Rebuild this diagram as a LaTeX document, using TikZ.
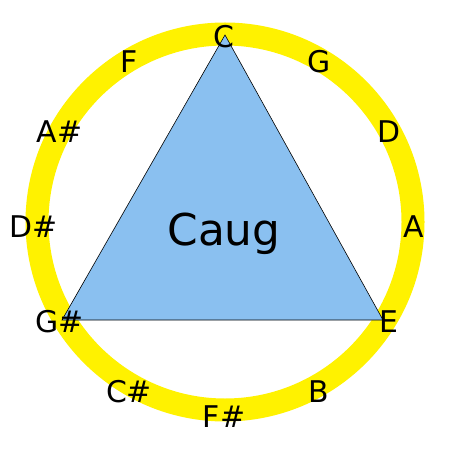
\documentclass[tikz,border=0pt]{standalone}
\usepackage{fontspec}
\setmainfont{DejaVu Sans}
\definecolor{triblue}{RGB}{138,192,240}
\begin{document}
\begin{tikzpicture}[x=1bp,y=-1bp]
\tikzset{
  ring/.style={draw=yellow,line width=23bp},
  tri/.style={fill=triblue,draw=black,line width=0.6bp,line join=miter},
  note/.style={font=\fontsize{30}{36}\selectfont,anchor=base,inner sep=0pt},
  title/.style={font=\fontsize{44}{52}\selectfont,anchor=base,inner sep=0pt}
}
\useasboundingbox (0,0) rectangle (450,450);
\coordinate (O) at (225,222);
\draw[ring] (O) circle[radius=188];
\coordinate (vC) at (225,35);
\coordinate (vGs) at (62,320);
\coordinate (vE) at (383,320);
\draw[tri] (vC) -- (vGs) -- (vE) -- cycle;
\node[title] (caug) at (224,245) {Caug};
\node[note] (C)  at (224,47.5) {C};
\node[note] (G)  at (319,73) {G};
\node[note] (D)  at (388.5,143) {D};
\node[note] (A)  at (414,237.5) {A};
\node[note] (E)  at (388.5,332.5) {E};
\node[note] (B)  at (319,402) {B};
\node[note] (Fs) at (224,427.5) {F\#};
\node[note] (Cs) at (129,402) {C\#};
\node[note] (Gs) at (59.5,332.5) {G\#};
\node[note] (Ds) at (34,237.5) {D\#};
\node[note] (As) at (59.5,143) {A\#};
\node[note] (F)  at (129,73) {F};
\end{tikzpicture}
\end{document}
